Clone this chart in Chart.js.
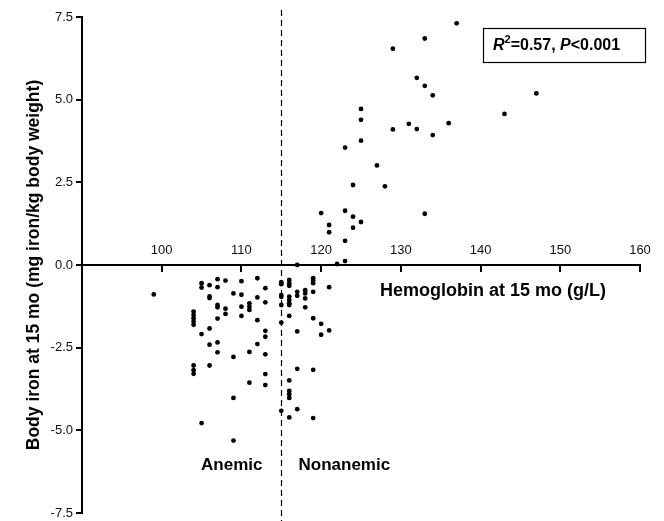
<!DOCTYPE html>
<html><head><meta charset="utf-8">
<script src="https://cdn.jsdelivr.net/npm/chart.js@4/dist/chart.umd.min.js"></script>
<style>html,body{margin:0;padding:0;background:#fff}</style>
</head><body>
<canvas id="c" width="664" height="521"></canvas>
<script>
// ---- data ----
const hbAnemic = [
  99,
  104,104,104,104,104,104,104,104,
  105,105,105,105,
  106,106,106,106,106,106,
  107,107,107,107,107,107,107,
  108,108,108,
  109,109,109,109,
  110,110,110,110,
  111,111,111,111,111,
  112,112,112,112,
  113,113,113,113,113,113,113
];
const ironAnemic = [
  -0.89,
  -1.41,-1.51,-1.61,-1.71,-1.81,-3.04,-3.18,-3.29,
  -0.55,-0.68,-2.09,-4.78,
  -0.61,-0.95,-1.00,-1.92,-2.41,-3.04,
  -0.43,-0.67,-1.21,-1.28,-1.62,-2.34,-2.64,
  -0.47,-1.32,-1.48,
  -0.86,-2.78,-4.02,-5.31,
  -0.49,-0.90,-1.26,-1.54,
  -1.16,-1.26,-1.36,-2.63,-3.56,
  -0.40,-0.98,-1.67,-2.39,
  -0.70,-1.13,-1.99,-2.17,-2.70,-3.30,-3.63
];
const hbNonanemic = [
  115,115,115,115,115,115,115,
  116,116,116,116,116,116,116,116,116,116,116,116,116,
  117,117,117,117,117,117,
  118,118,118,118,
  119,119,119,119,119,119,119,
  120,120,
  121,121,
  122,123,123,121,121,124,125,124,120,123,133,124,128,127,123,125,125,125,
  129,131,132,134,136,143,147,132,133,134,129,133,137
];
const ironNonanemic = [
  -0.52,-0.58,-0.91,-0.96,-1.21,-1.74,-4.41,
  -0.45,-0.55,-0.63,-0.96,-1.06,-1.16,-1.21,-1.54,-3.49,-3.81,-3.91,-4.02,-4.61,
  0.00,-0.81,-0.93,-2.01,-3.14,-4.36,
  -0.76,-0.86,-1.01,-1.28,
  -0.40,-0.47,-0.55,-0.81,-1.61,-3.17,-4.63,
  -1.78,-2.11,
  -0.67,-1.98,
  0.03,0.12,0.73,0.99,1.21,1.13,1.30,1.46,1.57,1.64,1.55,2.42,2.38,3.01,3.55,3.76,4.39,4.72,
  4.10,4.27,4.11,3.93,4.29,4.57,5.19,5.66,5.42,5.13,6.54,6.85,7.31
];
const xTickValues = [100, 110, 120, 130, 140, 150, 160];
const yTickValues = [-7.5, -5.0, -2.5, 0.0, 2.5, 5.0, 7.5];
const anemiaCutoff = 115;
const groupLabels = ['Anemic', 'Nonanemic'];
const xTitle = 'Hemoglobin at 15 mo (g/L)';
const yTitle = 'Body iron at 15 mo (mg iron/kg body weight)';
const statText = {r2: '0.57', p: '0.001'};

const FAM = '"Liberation Sans", Arial, sans-serif';
const toPts = (xs, ys) => xs.map((x, i) => ({x, y: ys[i]}));
const allPts = toPts(hbAnemic, ironAnemic).concat(toPts(hbNonanemic, ironNonanemic));

const annot = {
  id: 'annot',
  afterDraw(chart) {
    const ctx = chart.ctx, xs = chart.scales.x;
    const cx = Math.round(xs.getPixelForValue(anemiaCutoff)) + 0.5;
    ctx.save();
    ctx.strokeStyle = '#000'; ctx.lineWidth = 1.2; ctx.setLineDash([6, 4]);
    ctx.beginPath(); ctx.moveTo(cx, 10); ctx.lineTo(cx, chart.height); ctx.stroke();
    ctx.setLineDash([]);
    ctx.fillStyle = '#000';
    ctx.font = 'bold 17px ' + FAM;
    ctx.textBaseline = 'middle';
    ctx.textAlign = 'right';
    ctx.fillText(groupLabels[0], cx - 19, 465);
    ctx.textAlign = 'left';
    ctx.fillText(groupLabels[1], cx + 17, 465);
    ctx.font = 'bold 18px ' + FAM;
    ctx.fillText(xTitle, 380, 291);
    const bx = 483, by = 28, bw = 162, bh = 34;
    ctx.lineWidth = 1.2; ctx.strokeRect(bx + 0.5, by + 0.5, bw, bh);
    let tx = bx + 10; const ty = by + bh / 2 + 1;
    const it = 'italic bold 16px ' + FAM;
    const bd = 'bold 16px ' + FAM;
    const parts = [[it, 'R', 0], ['bold 11px ' + FAM, '2', -6], [bd, '=' + statText.r2 + ', ', 0], [it, 'P', 0], [bd, '<' + statText.p, 0]];
    for (const [f, t, dy] of parts) { ctx.font = f; ctx.fillText(t, tx, ty + dy); tx += ctx.measureText(t).width; }
    ctx.restore();
  }
};

new Chart(document.getElementById('c'), {
  type: 'scatter',
  data: { datasets: [{ data: allPts, backgroundColor: '#000', borderColor: '#000', pointRadius: 2.4, pointHoverRadius: 2.4, borderWidth: 0 }] },
  options: {
    responsive: false, animation: false, devicePixelRatio: 1,
    layout: { padding: { left: 0, right: 24, top: 17, bottom: 8 } },
    plugins: { legend: { display: false }, tooltip: { enabled: false } },
    scales: {
      x: {
        type: 'linear', min: 90, max: 160, position: { y: 0 },
        afterBuildTicks: s => { s.ticks = xTickValues.map(v => ({ value: v })); },
        afterFit: s => { s.paddingTop = 0; s.paddingBottom = 0; },
        border: { display: true, color: '#000', width: 2 },
        grid: { drawOnChartArea: false, drawTicks: true, tickLength: 6, color: '#000', lineWidth: 2 },
        ticks: { autoSkip: false, maxRotation: 0, padding: -28, color: '#111', font: { size: 13, family: FAM } }
      },
      y: {
        type: 'linear', min: -7.5, max: 7.5, position: 'left',
        afterBuildTicks: s => { s.ticks = yTickValues.map(v => ({ value: v })); },
        afterFit: s => { s.width = 82; s.paddingTop = 0; s.paddingBottom = 0; },
        border: { display: true, color: '#000', width: 2 },
        grid: { drawOnChartArea: false, drawTicks: true, tickLength: 6, color: '#000', lineWidth: 2 },
        ticks: { padding: 3, color: '#111', callback: v => Number(v).toFixed(1), font: { size: 13, family: FAM } },
        title: { display: true, text: yTitle, color: '#000', padding: { top: 24, bottom: 0 }, font: { size: 17.5, weight: 'bold', family: FAM } }
      }
    }
  },
  plugins: [annot]
});
</script>
</body></html>
